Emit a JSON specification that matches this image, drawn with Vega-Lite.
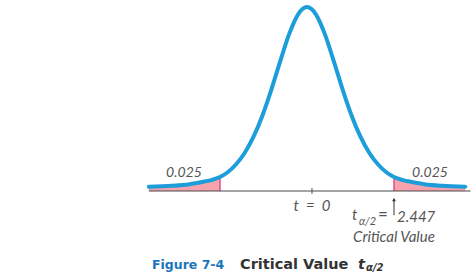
{
  "$schema": "https://vega.github.io/schema/vega-lite/v6.json",
  "width": 475,
  "height": 278,
  "autosize": "none",
  "padding": 0,
  "background": "white",
  "config": {"view": {"stroke": null}},
  "data": {"values": [{"k": 1}]},
  "datasets": {
    "curve": [
      {"t": -4.45, "d": 0.0089}, {"t": -3.8, "d": 0.0107}, {"t": -3.3, "d": 0.014}, {"t": -2.95, "d": 0.0186},
      {"t": -2.7, "d": 0.0225}, {"t": -2.447, "d": 0.0289}, {"t": -2.25, "d": 0.0377}, {"t": -2.0, "d": 0.0548},
      {"t": -1.75, "d": 0.0791}, {"t": -1.5, "d": 0.1126}, {"t": -1.25, "d": 0.1565}, {"t": -1.0, "d": 0.21},
      {"t": -0.75, "d": 0.2689}, {"t": -0.5, "d": 0.3245}, {"t": -0.25, "d": 0.365}, {"t": 0, "d": 0.38},
      {"t": 0.25, "d": 0.365}, {"t": 0.5, "d": 0.3245}, {"t": 0.75, "d": 0.2689}, {"t": 1.0, "d": 0.21},
      {"t": 1.25, "d": 0.1565}, {"t": 1.5, "d": 0.1126}, {"t": 1.75, "d": 0.0791}, {"t": 2.0, "d": 0.0548},
      {"t": 2.25, "d": 0.0377}, {"t": 2.447, "d": 0.0289}, {"t": 2.7, "d": 0.0225}, {"t": 2.95, "d": 0.0186},
      {"t": 3.3, "d": 0.014}, {"t": 3.8, "d": 0.0107}, {"t": 4.45, "d": 0.0089}
    ],
    "tails": [
      {"side": "L", "t": -4.45, "d": 0.0089}, {"side": "L", "t": -3.8, "d": 0.0107}, {"side": "L", "t": -3.3, "d": 0.014},
      {"side": "L", "t": -2.95, "d": 0.0186}, {"side": "L", "t": -2.7, "d": 0.0225}, {"side": "L", "t": -2.447, "d": 0.0289},
      {"side": "R", "t": 2.447, "d": 0.0289}, {"side": "R", "t": 2.7, "d": 0.0225}, {"side": "R", "t": 2.95, "d": 0.0186},
      {"side": "R", "t": 3.3, "d": 0.014}, {"side": "R", "t": 3.8, "d": 0.0107}, {"side": "R", "t": 4.45, "d": 0.0089}
    ],
    "crit": [{"t": -2.447, "d": 0.0289}, {"t": 2.447, "d": 0.0289}]
  },
  "layer": [
    {
      "data": {"name": "tails"},
      "mark": {"type": "area", "interpolate": "monotone", "color": "#f6a3ae", "opacity": 1},
      "encoding": {
        "x": {"field": "t", "type": "quantitative", "scale": {"domain": [-8.636, 4.726], "nice": false, "zero": false}, "axis": null},
        "y": {"field": "d", "type": "quantitative", "scale": {"domain": [-0.1797, 0.3945], "nice": false, "zero": false}, "axis": null},
        "y2": {"datum": 0},
        "detail": {"field": "side"}
      }
    },
    {
      "data": {"name": "crit"},
      "mark": {"type": "rule", "color": "#e0508a", "strokeWidth": 1.5},
      "encoding": {
        "x": {"field": "t", "type": "quantitative", "scale": {"domain": [-8.636, 4.726], "nice": false, "zero": false}, "axis": null},
        "y": {"field": "d", "type": "quantitative", "scale": {"domain": [-0.1797, 0.3945], "nice": false, "zero": false}, "axis": null},
        "y2": {"datum": 0}
      }
    },
    {
      "mark": {"type": "rule", "color": "#4a4a4a", "strokeWidth": 1.2},
      "encoding": {
        "x": {"datum": -4.45, "type": "quantitative", "scale": {"domain": [-8.636, 4.726], "nice": false, "zero": false}, "axis": null},
        "x2": {"datum": 4.6},
        "y": {"datum": 0, "type": "quantitative", "scale": {"domain": [-0.1797, 0.3945], "nice": false, "zero": false}, "axis": null}
      }
    },
    {
      "data": {"name": "curve"},
      "mark": {"type": "line", "interpolate": "monotone", "color": "#1d9dd9", "strokeWidth": 4, "strokeCap": "round"},
      "encoding": {
        "x": {"field": "t", "type": "quantitative", "scale": {"domain": [-8.636, 4.726], "nice": false, "zero": false}, "axis": null},
        "y": {"field": "d", "type": "quantitative", "scale": {"domain": [-0.1797, 0.3945], "nice": false, "zero": false}, "axis": null}
      }
    },
    {
      "mark": {"type": "rule", "color": "#4a4a4a", "strokeWidth": 1},
      "encoding": {
        "x": {"datum": 0.14, "type": "quantitative", "scale": {"domain": [-8.636, 4.726], "nice": false, "zero": false}, "axis": null},
        "y": {"datum": 0.006, "type": "quantitative", "scale": {"domain": [-0.1797, 0.3945], "nice": false, "zero": false}, "axis": null},
        "y2": {"datum": -0.006}
      }
    },
    {
      "mark": {"type": "rule", "color": "#333333", "strokeWidth": 1},
      "encoding": {
        "x": {"datum": 2.447, "type": "quantitative", "scale": {"domain": [-8.636, 4.726], "nice": false, "zero": false}, "axis": null},
        "y": {"datum": -0.016, "type": "quantitative", "scale": {"domain": [-0.1797, 0.3945], "nice": false, "zero": false}, "axis": null},
        "y2": {"datum": -0.05}
      }
    },
    {
      "mark": {"type": "point", "shape": "triangle-up", "filled": true, "color": "#333333", "size": 14, "opacity": 1},
      "encoding": {
        "x": {"datum": 2.447, "type": "quantitative", "scale": {"domain": [-8.636, 4.726], "nice": false, "zero": false}, "axis": null},
        "y": {"datum": -0.018, "type": "quantitative", "scale": {"domain": [-0.1797, 0.3945], "nice": false, "zero": false}, "axis": null}
      }
    },
    {
      "mark": {"type": "text", "text": "0.025", "font": "Lato", "fontStyle": "italic", "fontSize": 14, "color": "#555555", "align": "center", "baseline": "middle"},
      "encoding": {
        "x": {"datum": -3.46, "type": "quantitative", "scale": {"domain": [-8.636, 4.726], "nice": false, "zero": false}, "axis": null},
        "y": {"datum": 0.038, "type": "quantitative", "scale": {"domain": [-0.1797, 0.3945], "nice": false, "zero": false}, "axis": null}
      }
    },
    {
      "mark": {"type": "text", "text": "0.025", "font": "Lato", "fontStyle": "italic", "fontSize": 14, "color": "#555555", "align": "center", "baseline": "middle"},
      "encoding": {
        "x": {"datum": 3.46, "type": "quantitative", "scale": {"domain": [-8.636, 4.726], "nice": false, "zero": false}, "axis": null},
        "y": {"datum": 0.038, "type": "quantitative", "scale": {"domain": [-0.1797, 0.3945], "nice": false, "zero": false}, "axis": null}
      }
    },
    {
      "mark": {"type": "text", "text": "t\u00a0\u00a0=\u00a0\u00a00", "font": "Lato", "fontStyle": "italic", "fontSize": 15, "color": "#555555", "align": "center", "baseline": "middle"},
      "encoding": {
        "x": {"datum": 0.14, "type": "quantitative", "scale": {"domain": [-8.636, 4.726], "nice": false, "zero": false}, "axis": null},
        "y": {"datum": -0.031, "type": "quantitative", "scale": {"domain": [-0.1797, 0.3945], "nice": false, "zero": false}, "axis": null}
      }
    },
    {
      "mark": {"type": "text", "text": "t", "font": "Lato", "fontStyle": "italic", "fontSize": 15, "color": "#555555", "align": "left", "baseline": "middle"},
      "encoding": {
        "x": {"datum": 1.266, "type": "quantitative", "scale": {"domain": [-8.636, 4.726], "nice": false, "zero": false}, "axis": null},
        "y": {"datum": -0.0496, "type": "quantitative", "scale": {"domain": [-0.1797, 0.3945], "nice": false, "zero": false}, "axis": null}
      }
    },
    {
      "mark": {"type": "text", "text": "α/2", "font": "Lato", "fontStyle": "italic", "fontSize": 11, "color": "#555555", "align": "left", "baseline": "middle"},
      "encoding": {
        "x": {"datum": 1.463, "type": "quantitative", "scale": {"domain": [-8.636, 4.726], "nice": false, "zero": false}, "axis": null},
        "y": {"datum": -0.064, "type": "quantitative", "scale": {"domain": [-0.1797, 0.3945], "nice": false, "zero": false}, "axis": null}
      }
    },
    {
      "mark": {"type": "text", "text": "=", "font": "Lato", "fontSize": 17, "color": "#555555", "align": "center", "baseline": "middle"},
      "encoding": {
        "x": {"datum": 2.138, "type": "quantitative", "scale": {"domain": [-8.636, 4.726], "nice": false, "zero": false}, "axis": null},
        "y": {"datum": -0.0496, "type": "quantitative", "scale": {"domain": [-0.1797, 0.3945], "nice": false, "zero": false}, "axis": null}
      }
    },
    {
      "mark": {"type": "text", "text": "2.447", "font": "Lato", "fontStyle": "italic", "fontSize": 15, "color": "#555555", "align": "left", "baseline": "middle"},
      "encoding": {
        "x": {"datum": 2.532, "type": "quantitative", "scale": {"domain": [-8.636, 4.726], "nice": false, "zero": false}, "axis": null},
        "y": {"datum": -0.0537, "type": "quantitative", "scale": {"domain": [-0.1797, 0.3945], "nice": false, "zero": false}, "axis": null}
      }
    },
    {
      "mark": {"type": "text", "text": "Critical Value", "font": "Lato", "fontStyle": "italic", "fontSize": 15, "color": "#555555", "align": "center", "baseline": "middle"},
      "encoding": {
        "x": {"datum": 2.447, "type": "quantitative", "scale": {"domain": [-8.636, 4.726], "nice": false, "zero": false}, "axis": null},
        "y": {"datum": -0.095, "type": "quantitative", "scale": {"domain": [-0.1797, 0.3945], "nice": false, "zero": false}, "axis": null}
      }
    },
    {
      "mark": {"type": "text", "text": "Figure 7-4", "font": "DejaVu Sans", "fontWeight": "bold", "fontSize": 12.5, "color": "#1b75bb", "align": "left", "baseline": "middle"},
      "encoding": {
        "x": {"datum": -4.36, "type": "quantitative", "scale": {"domain": [-8.636, 4.726], "nice": false, "zero": false}, "axis": null},
        "y": {"datum": -0.1528, "type": "quantitative", "scale": {"domain": [-0.1797, 0.3945], "nice": false, "zero": false}, "axis": null}
      }
    },
    {
      "mark": {"type": "text", "text": "Critical Value", "font": "DejaVu Sans", "fontWeight": "bold", "fontSize": 14.5, "color": "#333333", "align": "left", "baseline": "middle"},
      "encoding": {
        "x": {"datum": -1.885, "type": "quantitative", "scale": {"domain": [-8.636, 4.726], "nice": false, "zero": false}, "axis": null},
        "y": {"datum": -0.1528, "type": "quantitative", "scale": {"domain": [-0.1797, 0.3945], "nice": false, "zero": false}, "axis": null}
      }
    },
    {
      "mark": {"type": "text", "text": "t", "font": "DejaVu Sans", "fontWeight": "bold", "fontStyle": "italic", "fontSize": 14.5, "color": "#333333", "align": "left", "baseline": "middle"},
      "encoding": {
        "x": {"datum": 1.435, "type": "quantitative", "scale": {"domain": [-8.636, 4.726], "nice": false, "zero": false}, "axis": null},
        "y": {"datum": -0.1528, "type": "quantitative", "scale": {"domain": [-0.1797, 0.3945], "nice": false, "zero": false}, "axis": null}
      }
    },
    {
      "mark": {"type": "text", "text": "α/2", "font": "DejaVu Sans", "fontWeight": "bold", "fontStyle": "italic", "fontSize": 10, "color": "#333333", "align": "left", "baseline": "middle"},
      "encoding": {
        "x": {"datum": 1.66, "type": "quantitative", "scale": {"domain": [-8.636, 4.726], "nice": false, "zero": false}, "axis": null},
        "y": {"datum": -0.159, "type": "quantitative", "scale": {"domain": [-0.1797, 0.3945], "nice": false, "zero": false}, "axis": null}
      }
    }
  ]
}
